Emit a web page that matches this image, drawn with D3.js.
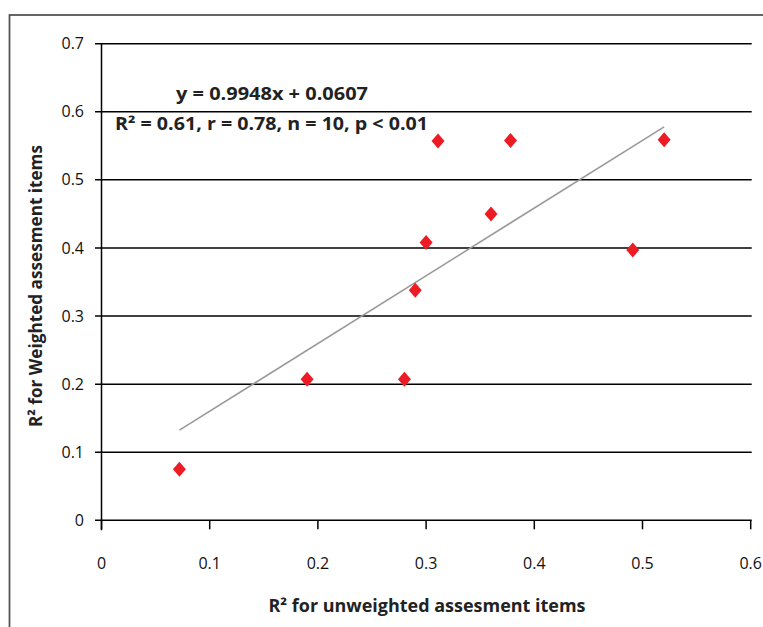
<!DOCTYPE html>
<html><head><meta charset="utf-8">
<script src="https://cdn.jsdelivr.net/npm/d3@7/dist/d3.min.js"></script>
<style>body{margin:0;background:#fff}svg{display:block}</style>
</head><body>
<script>
const xValues = [0.072, 0.19, 0.28, 0.29, 0.30, 0.311, 0.36, 0.378, 0.491, 0.52];
const yValues = [0.075, 0.207, 0.207, 0.338, 0.408, 0.557, 0.450, 0.558, 0.397, 0.559];
const xTicks = [0, 0.1, 0.2, 0.3, 0.4, 0.5, 0.6];
const yTicks = [0, 0.1, 0.2, 0.3, 0.4, 0.5, 0.6, 0.7];
const slope = 0.9948, intercept = 0.0607;
const eqLabel = "y = 0.9948x + 0.0607";
const statLabel = "R\u00B2 = 0.61, r = 0.78, n = 10, p < 0.01";
const xTitle = "R\u00B2 for unweighted assesment items";
const yTitle = "R\u00B2 for Weighted assesment items";

const W = 763, H = 627;
const svg = d3.select("body").append("svg").attr("width", W).attr("height", H);

svg.append("rect").attr("x", 9.5).attr("y", 15).attr("width", 800).attr("height", 700)
  .attr("fill", "none").attr("stroke", "#555").attr("stroke-width", 1.8);

const x = d3.scaleLinear().domain([0, 0.6]).range([101.5, 750.7]);
const y = d3.scaleLinear().domain([0, 0.7]).range([520.3, 43.7]);
const tickFont = "'Open Sans', sans-serif";
const boldFont = "'Open Sans', sans-serif";

svg.append("g").selectAll("line").data(yTicks).join("line")
  .attr("x1", 95).attr("x2", x(0.6) + 1)
  .attr("y1", d => y(d)).attr("y2", d => y(d))
  .attr("stroke", "#000").attr("stroke-width", 1.5);

svg.append("line").attr("x1", x(0)).attr("x2", x(0)).attr("y1", y(0.7)).attr("y2", y(0) + 10)
  .attr("stroke", "#000").attr("stroke-width", 1.5);

svg.append("g").selectAll("line").data(xTicks).join("line")
  .attr("x1", d => x(d)).attr("x2", d => x(d)).attr("y1", y(0)).attr("y2", y(0) + 9)
  .attr("stroke", "#000").attr("stroke-width", 1.5);

svg.append("g").selectAll("text").data(yTicks).join("text")
  .attr("x", 84).attr("y", d => y(d)).attr("dy", "0.35em")
  .attr("text-anchor", "end").attr("font-family", tickFont).attr("font-size", 16).attr("fill", "#111")
  .text(d => d === 0 ? "0" : d3.format(".1f")(d));
svg.append("g").selectAll("text").data(xTicks).join("text")
  .attr("x", d => x(d)).attr("y", 569)
  .attr("text-anchor", "middle").attr("font-family", tickFont).attr("font-size", 16).attr("fill", "#111")
  .text(d => d === 0 ? "0" : d3.format(".1f")(d));

const xMin = d3.min(xValues), xMax = d3.max(xValues);
svg.append("line")
  .attr("x1", x(xMin)).attr("y1", y(slope * xMin + intercept))
  .attr("x2", x(xMax)).attr("y2", y(slope * xMax + intercept))
  .attr("stroke", "#999").attr("stroke-width", 1.5);

const pts = xValues.map((v, i) => ({x: v, y: yValues[i]}));
svg.append("g").selectAll("path").data(pts).join("path")
  .attr("d", d => { const cx = x(d.x), cy = y(d.y);
    return `M${cx},${cy-7.5}L${cx+6.5},${cy}L${cx},${cy+7.5}L${cx-6.5},${cy}Z`; })
  .attr("fill", "#ed1c24");

function boldText(txt, attrs, len) {
  const t = svg.append("text").attr("font-family", boldFont).attr("font-weight", "bold")
    .attr("font-size", 17).attr("fill", "#222").text(txt);
  Object.entries(attrs).forEach(([k, v]) => t.attr(k, v));
  t.attr("textLength", len).attr("lengthAdjust", "spacingAndGlyphs");
  return t;
}
boldText(eqLabel, {x: 176, y: 100}, 192);
boldText(statLabel, {x: 115, y: 130}, 313);
boldText(xTitle, {x: 427, y: 612, "text-anchor": "middle"}, 317);
boldText(yTitle, {transform: "translate(42,286) rotate(-90)", "text-anchor": "middle"}, 282);
</script>
</body></html>
